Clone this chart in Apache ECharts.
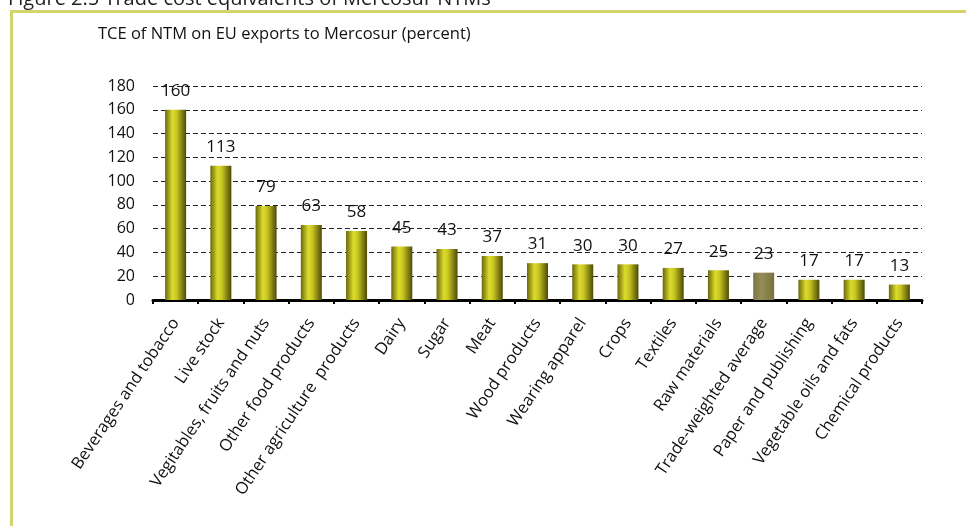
<!DOCTYPE html>
<html>
<head>
    <meta charset="UTF-8">
    <title>TCE of NTM on EU exports to Mercosur</title>
    <script src="https://cdn.jsdelivr.net/npm/echarts@6/dist/echarts.min.js"></script>
    <style>
        html, body { margin: 0; padding: 0; background: #fff; }
        #container { width: 966px; height: 526px; }
    </style>
</head>
<body>
    <div id="container"></div>
    <script type="text/javascript">
        var categories = ['Beverages and tobacco', 'Live stock', 'Vegitables, fruits and nuts', 'Other food products',
            'Other agriculture  products', 'Dairy', 'Sugar', 'Meat', 'Wood products', 'Wearing apparel', 'Crops',
            'Textiles', 'Raw materials', 'Trade-weighted average', 'Paper and publishing', 'Vegetable oils and fats',
            'Chemical products'];
        var values = [160, 113, 79, 63, 58, 45, 43, 37, 31, 30, 30, 27, 25, 23, 17, 17, 13];
        var yTicks = [0, 20, 40, 60, 80, 100, 120, 140, 160, 180];
        var highlight = 'Trade-weighted average';

        var font = '"Open Sans", sans-serif';

        // yellow cylinder-ish look
        var barGrad = new echarts.graphic.LinearGradient(0, 0, 1, 0, [
            { offset: 0, color: '#6a680c' },
            { offset: 0.35, color: '#dcdc2c' },
            { offset: 0.55, color: '#c8c622' },
            { offset: 1, color: '#4c4a06' }
        ]);
        var avgGrad = new echarts.graphic.LinearGradient(0, 0, 1, 0, [
            { offset: 0, color: '#7c7648' },
            { offset: 0.4, color: '#958e58' },
            { offset: 1, color: '#77713f' }
        ]);

        var barData = values.map(function (v, i) {
            return {
                value: v,
                itemStyle: { color: categories[i] === highlight ? avgGrad : barGrad }
            };
        });

        var chart = echarts.init(document.getElementById('container'));
        chart.setOption({
            animation: false,
            textStyle: { fontFamily: font },
            title: {
                text: 'TCE of NTM on EU exports to Mercosur (percent)',
                left: 93,
                top: 21,
                textStyle: { fontSize: 16.5, fontWeight: 'normal', color: '#111', fontFamily: font }
            },
            graphic: [
                {
                    type: 'rect',
                    shape: { x: 11.5, y: 11.5, width: 980, height: 540 },
                    style: { fill: 'none', stroke: '#d5d36c', lineWidth: 3 },
                    silent: true
                },
                {
                    type: 'text',
                    left: 8,
                    top: -11,
                    style: {
                        text: 'Figure 2.5 Trade cost equivalents of Mercosur NTMs',
                        fontSize: 20,
                        fontFamily: font,
                        fill: '#222'
                    }
                }
            ],
            grid: { left: 153, right: 44, top: 86, bottom: 226 },
            xAxis: {
                type: 'category',
                data: categories,
                axisLine: { lineStyle: { color: '#000', width: 3 } },
                axisTick: { show: true, length: 4, lineStyle: { color: '#000', width: 2 } },
                axisLabel: {
                    interval: 0,
                    rotate: 56,
                    fontSize: 16.5,
                    color: '#111',
                    margin: 20,
                    fontFamily: font
                }
            },
            yAxis: {
                type: 'value',
                min: yTicks[0],
                max: yTicks[yTicks.length - 1],
                interval: 20,
                axisLine: { show: false },
                axisTick: { show: false },
                axisLabel: { fontSize: 16, color: '#111', margin: 18, fontFamily: font },
                splitLine: { lineStyle: { color: '#222', type: [5, 3], width: 1 } }
            },
            series: [{
                type: 'bar',
                data: barData,
                barWidth: 21,
                label: {
                    show: true,
                    position: 'top',
                    distance: 10,
                    fontSize: 17,
                    color: '#111',
                    fontFamily: font
                }
            }]
        });
    </script>
</body>
</html>
